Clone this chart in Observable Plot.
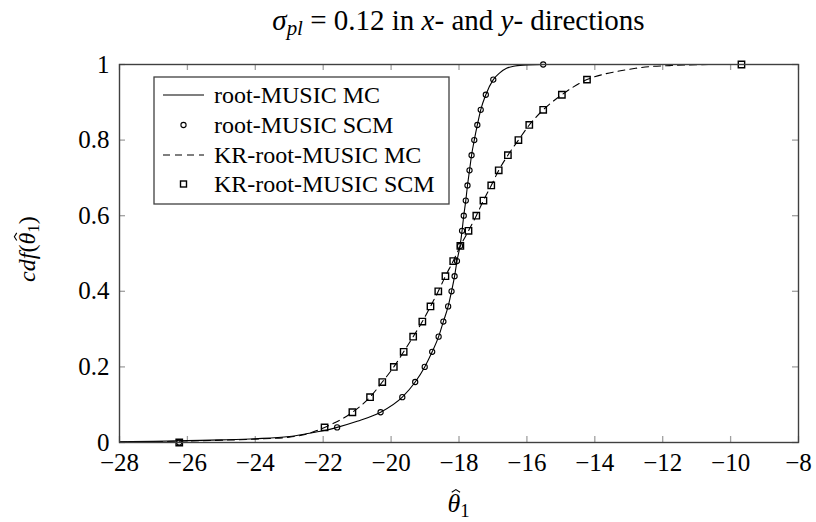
<!DOCTYPE html>
<html><head><meta charset="utf-8">
<script src="https://cdn.jsdelivr.net/npm/d3@7"></script>
<script src="https://cdn.jsdelivr.net/npm/@observablehq/plot@0.6"></script>
<style>body{margin:0;background:#fff} #chart svg{display:block}</style>
</head><body><div id="chart"></div>
<script>
// ---- data ----
const xTicks = [-28, -26, -24, -22, -20, -18, -16, -14, -12, -10, -8];
const yTicks = [0, 0.2, 0.4, 0.6, 0.8, 1];
const seriesNames = ["root-MUSIC MC", "root-MUSIC SCM", "KR-root-MUSIC MC", "KR-root-MUSIC SCM"];

// markers (SCM), cdf levels
const scmLevels = [0, 0.04, 0.08, 0.12, 0.16, 0.2, 0.24, 0.28, 0.32, 0.36, 0.4, 0.44, 0.48, 0.52, 0.56, 0.6, 0.64, 0.68, 0.72, 0.76, 0.8, 0.84, 0.88, 0.92, 0.96, 1];
const rootScmX = [-26.24, -21.59, -20.31, -19.67, -19.29, -19.01, -18.79, -18.6, -18.46, -18.32, -18.22, -18.13, -18.06, -17.97, -17.91, -17.86, -17.8, -17.75, -17.69, -17.63, -17.55, -17.46, -17.36, -17.21, -16.99, -15.52];
const krScmX = [-26.24, -21.96, -21.14, -20.62, -20.26, -19.92, -19.63, -19.35, -19.08, -18.84, -18.61, -18.4, -18.17, -17.96, -17.72, -17.49, -17.28, -17.05, -16.83, -16.56, -16.25, -15.93, -15.52, -14.97, -14.23, -9.68];

// MC curves
const rootMcX = [-28, -27, -26, -25, -24, -23, -22.5, -22, -21.59, -21, -20.31, -19.67, -19.29, -19.01, -18.79, -18.6, -18.46, -18.32, -18.22, -18.13, -18.06, -17.97, -17.91, -17.86, -17.8, -17.75, -17.69, -17.63, -17.55, -17.46, -17.36, -17.21, -16.99, -16.8, -16.6, -16.35, -16.0, -15.5, -8];
const rootMcY = [0.002, 0.003, 0.005, 0.007, 0.01, 0.016, 0.023, 0.031, 0.04, 0.056, 0.08, 0.12, 0.16, 0.2, 0.24, 0.28, 0.32, 0.36, 0.4, 0.44, 0.48, 0.52, 0.56, 0.6, 0.64, 0.68, 0.72, 0.76, 0.8, 0.84, 0.88, 0.92, 0.96, 0.978, 0.99, 0.996, 0.999, 1, 1];
const krMcX = [-28, -27, -26, -25, -24, -23, -22.5, -21.96, -21.14, -20.62, -20.26, -19.92, -19.63, -19.35, -19.08, -18.84, -18.61, -18.4, -18.17, -17.96, -17.72, -17.49, -17.28, -17.05, -16.83, -16.56, -16.25, -15.93, -15.52, -14.97, -14.23, -13.7, -13.2, -12.8, -12.3, -11.8, -11.2, -10.5, -8];
const krMcY = [0.001, 0.002, 0.004, 0.006, 0.009, 0.014, 0.022, 0.04, 0.08, 0.12, 0.16, 0.2, 0.24, 0.28, 0.32, 0.36, 0.4, 0.44, 0.48, 0.52, 0.56, 0.6, 0.64, 0.68, 0.72, 0.76, 0.8, 0.84, 0.88, 0.92, 0.96, 0.975, 0.984, 0.99, 0.995, 0.997, 0.999, 1, 1];

// ---- tables ----
const rootMc = rootMcX.map((x, i) => ({x, y: rootMcY[i]}));
const krMc = krMcX.map((x, i) => ({x, y: krMcY[i]}));
const rootScm = rootScmX.map((x, i) => ({x, y: scmLevels[i]}));
const krScm = krScmX.map((x, i) => ({x, y: scmLevels[i]}));

const FONT = "'Liberation Serif', 'DejaVu Serif', 'Times New Roman', serif";
const W = 816, H = 522, ML = 119, MR = 18, MT = 64, MB = 80;
const PH = H - MT - MB;
const tickColor = "#a0a0a0";

const chart = Plot.plot({
  width: W, height: H,
  marginLeft: ML, marginRight: MR, marginTop: MT, marginBottom: MB,
  style: {fontFamily: FONT, fontSize: "25px", background: "white", color: "black"},
  x: {domain: [-28, -8]},
  y: {domain: [0, 1]},
  marks: [
    // inner tick marks on all four sides
    Plot.tickX(xTicks, {x: d => d, stroke: tickColor, strokeWidth: 1.3, insetTop: PH - 6}),
    Plot.tickX(xTicks, {x: d => d, stroke: tickColor, strokeWidth: 1.3, insetBottom: PH - 6}),
    Plot.tickY(yTicks, {y: d => d, stroke: tickColor, strokeWidth: 1.3, insetRight: (W - ML - MR) - 6}),
    Plot.tickY(yTicks, {y: d => d, stroke: tickColor, strokeWidth: 1.3, insetLeft: (W - ML - MR) - 6}),
    Plot.axisX({anchor: "bottom", ticks: xTicks, tickSize: 0, tickPadding: 11, label: null, fontSize: 25, fontFamily: FONT}),
    Plot.axisY({anchor: "left", ticks: yTicks, tickSize: 0, tickPadding: 10, label: null, fontSize: 25, fontFamily: FONT, tickFormat: d => String(d)}),
    Plot.line(rootMc, {x: "x", y: "y", stroke: "black", strokeWidth: 1.1, curve: "monotone-x"}),
    Plot.line(krMc, {x: "x", y: "y", stroke: "black", strokeWidth: 1.1, strokeDasharray: "7,5", curve: "monotone-x"}),
    Plot.dot(rootScm, {x: "x", y: "y", symbol: "circle", r: 2.6, stroke: "black", strokeWidth: 1.1, fill: "none"}),
    Plot.dot(krScm, {x: "x", y: "y", symbol: "square", r: 3.6, stroke: "black", strokeWidth: 1.4, fill: "none"}),
    Plot.frame({stroke: "#404040", strokeWidth: 1.4})
  ]
});

document.getElementById("chart").appendChild(chart);

// ---- annotations: title, axis labels, legend ----
const svg = d3.select(chart);

function richText(g, parts) {
  parts.forEach(p => {
    const t = g.append("tspan").text(p.t);
    if (p.i) t.attr("font-style", "italic");
    if (p.sub) t.attr("font-size", "0.72em").attr("baseline-shift", "-0.25em");
  });
}
// draws a small circumflex accent (as a path) above character ci of a text node
function addHat(textSel, ci, size) {
  const node = textSel.node();
  const a = node.getStartPositionOfChar(ci), b = node.getEndPositionOfChar(ci);
  const cx = (a.x + b.x) / 2 + size * 0.08, top = a.y - size * 0.86;
  const w = size * 0.16, h = size * 0.1;
  d3.select(node.parentNode).append("path")
    .attr("transform", textSel.attr("transform"))
    .attr("d", `M${cx - w},${top + h}L${cx},${top}L${cx + w},${top + h}`)
    .attr("fill", "none").attr("stroke", "black").attr("stroke-width", 1.1);
}

const title = svg.append("text")
  .attr("x", ML + (W - ML - MR) / 2).attr("y", 30)
  .attr("text-anchor", "middle").attr("font-family", FONT).attr("font-size", 29).attr("fill", "black");
richText(title, [
  {t: "σ", i: true}, {t: "pl", i: true, sub: true}, {t: " = 0.12 in "}, {t: "x", i: true},
  {t: "- and "}, {t: "y", i: true}, {t: "- directions"}
]);

const xl = svg.append("text")
  .attr("x", ML + (W - ML - MR) / 2).attr("y", 512)
  .attr("text-anchor", "middle").attr("font-family", FONT).attr("font-size", 26).attr("fill", "black");
richText(xl, [{t: "θ", i: true}, {t: "1", sub: true}]);
addHat(xl, 0, 26);

const yl = svg.append("text")
  .attr("transform", `translate(35,${MT + PH / 2 - 4}) rotate(-90)`)
  .attr("x", 0).attr("y", 0)
  .attr("text-anchor", "middle").attr("font-family", FONT).attr("font-size", 24).attr("fill", "black");
richText(yl, [{t: "cdf", i: true}, {t: "("}, {t: "θ", i: true}, {t: "1", sub: true}, {t: ")"}]);
addHat(yl, 4, 24);

// legend
const lg = svg.append("g").attr("font-family", FONT).attr("font-size", 24).attr("text-anchor", "start");
lg.append("rect").attr("x", 154).attr("y", 77).attr("width", 295).attr("height", 127)
  .attr("fill", "white").attr("stroke", "#404040").attr("stroke-width", 1.3);
const rowY = [95, 125, 155, 184];
seriesNames.forEach((name, i) => {
  const y = rowY[i];
  if (i === 0 || i === 2) {
    lg.append("line").attr("x1", 163).attr("x2", 204).attr("y1", y).attr("y2", y)
      .attr("stroke", "black").attr("stroke-width", 1.1)
      .attr("stroke-dasharray", i === 2 ? "7,5" : null);
  } else if (i === 1) {
    lg.append("circle").attr("cx", 183.5).attr("cy", y).attr("r", 2.6)
      .attr("fill", "none").attr("stroke", "black").attr("stroke-width", 1.1);
  } else {
    lg.append("rect").attr("x", 180.5).attr("y", y - 3).attr("width", 6).attr("height", 6)
      .attr("fill", "none").attr("stroke", "black").attr("stroke-width", 1.4);
  }
  lg.append("text").attr("x", 214).attr("y", y + 8).attr("fill", "black").attr("text-anchor", "start").text(name);
});
</script></body></html>
